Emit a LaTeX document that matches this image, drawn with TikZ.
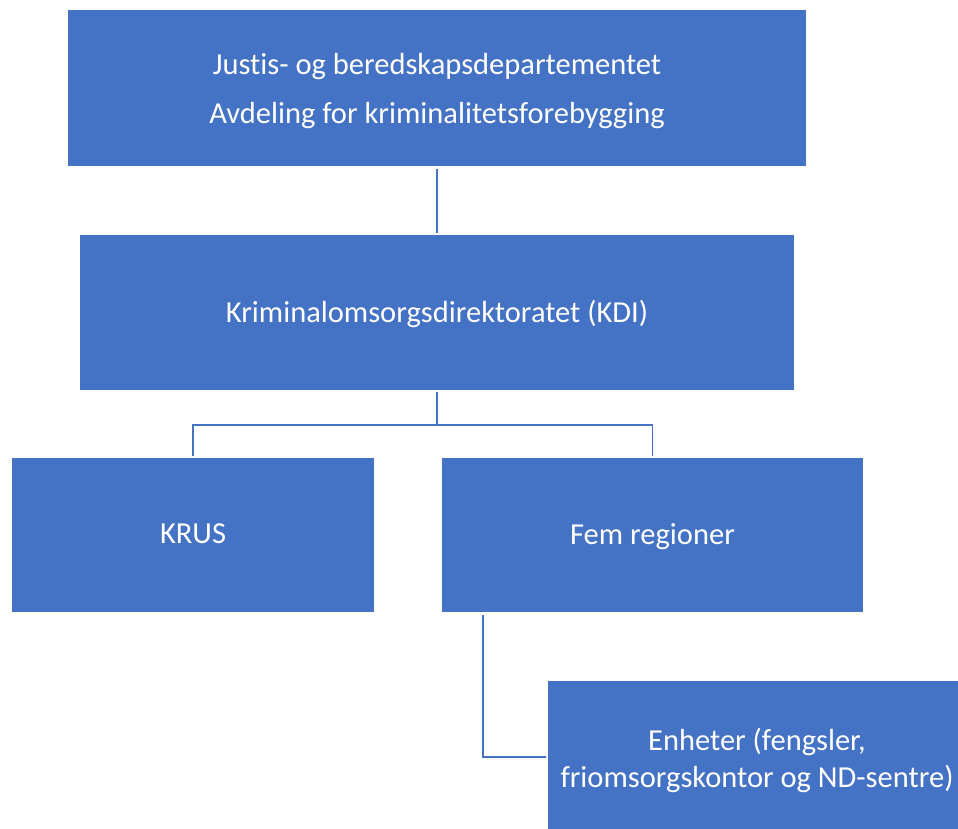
\documentclass[tikz,border=0pt]{standalone}
\usepackage{fontspec}
\setmainfont{Carlito}[Ligatures={NoCommon,NoContextual}]
\definecolor{boxblue}{HTML}{4472C4}
\definecolor{lineblue}{HTML}{4472C4}
\begin{document}
\begin{tikzpicture}[x=1pt,y=-1pt,
  orgbox/.style={fill=boxblue,inner sep=0pt},
  orgtext/.style={text=white,inner sep=0pt,align=center,font=\fontsize{30.5}{37}\selectfont},
  conn/.style={draw=lineblue,line width=1.7pt}]
\useasboundingbox (0,0) rectangle (958,829);
\begin{scope}
\clip (0,0) rectangle (958,829);
\node[orgbox,minimum width=738pt,minimum height=156pt] (top) at (437,88) {};
\node[orgbox,minimum width=714pt,minimum height=155pt] (kdi) at (437,312.5) {};
\node[orgbox,minimum width=362pt,minimum height=154pt] (krus) at (193,535) {};
\node[orgbox,minimum width=421pt,minimum height=154pt] (fem) at (652.5,535) {};
\node[orgbox,minimum width=418pt,minimum height=152pt] (enh) at (757,757) {};
\node[orgtext] (topt) at ([yshift=-3pt]top.center) {Justis- og beredskapsdepartementet\\[12pt]Avdeling for kriminalitetsforebygging};
\node[orgtext] (kdit) at ([yshift=-1pt]kdi.center) {Kriminalomsorgsdirektoratet (KDI)};
\node[orgtext] (krust) at ([yshift=-1pt]krus.center) {KRUS\vphantom{g}};
\node[orgtext] (femt) at ([yshift=-2pt]fem.center) {Fem regioner};
\node[orgtext] (enht) at ([yshift=-3pt]enh.center) {Enheter (fengsler,\\friomsorgskontor og ND-sentre)};
\draw[conn] ([yshift=-3pt]top.south) -- ([yshift=2pt]kdi.north);
\draw[conn] ([yshift=-2pt]kdi.south) -- ++(0,33) -| ([yshift=2pt]krus.north);
\draw[conn] ([yshift=-2pt]kdi.south) -- ++(0,33) -| ([yshift=2pt]fem.north);
\draw[conn] ([xshift=41pt,yshift=-3pt]fem.south west) |- ([xshift=-2pt]enh.west);
\end{scope}
\end{tikzpicture}
\end{document}
